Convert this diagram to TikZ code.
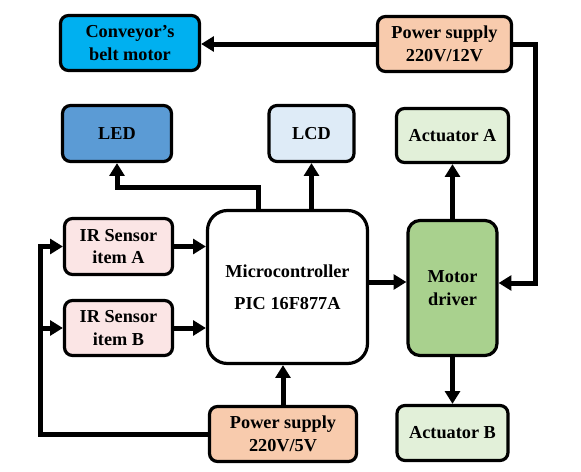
\documentclass[tikz,border=0pt]{standalone}
\usepackage{fontspec}
\setmainfont{Liberation Serif}
\usepackage{tikz}
\usetikzlibrary{arrows.meta}

\definecolor{convblue}{HTML}{00B0F0}
\definecolor{ledblue}{HTML}{5B9BD5}
\definecolor{lcdblue}{HTML}{DEEBF7}
\definecolor{powerorange}{HTML}{F8CBAD}
\definecolor{actgreen}{HTML}{E2F0D9}
\definecolor{drivegreen}{HTML}{A9D18E}
\definecolor{sensorpink}{HTML}{FBE5E5}

\begin{document}
\begin{tikzpicture}[x=0.75pt,y=-0.75pt,->,>={Triangle[length=9.5pt,width=11pt]},line width=3.75pt,
    block/.style={draw=black,line width=2.4pt,rounded corners=6pt,align=center,inner sep=0pt,
        font=\fontsize{13.7}{17}\selectfont\bfseries}]
    \useasboundingbox (0,0) rectangle (581,471);

        % Top row
        \node[block,fill=convblue,minimum width=104.25pt,minimum height=41.25pt] (CONV) at (130,43) {Conveyor’s\\belt motor};
        \node[block,fill=powerorange,minimum width=100.5pt,minimum height=41.25pt] (PS12) at (444.5,44) {Power supply\\220V/12V};

        % Outputs of the microcontroller and driver
        \node[block,fill=ledblue,minimum width=81.75pt,minimum height=42pt] (LED) at (117,133.5) {LED};
        \node[block,fill=lcdblue,minimum width=63.75pt,minimum height=42pt] (LCD) at (311.5,133.5) {LCD};
        \node[block,fill=actgreen,minimum width=84pt,minimum height=40.5pt] (ACTA) at (452.5,135.5) {Actuator A};

        % Sensors
        \node[block,fill=sensorpink,minimum width=81pt,minimum height=42pt] (IRA) at (118.5,246.5) {IR Sensor\\item A};
        \node[block,fill=sensorpink,minimum width=81pt,minimum height=41.25pt] (IRB) at (118.5,328) {IR Sensor\\item B};

        % Controller and driver
        \node[block,fill=white,rounded corners=15pt,minimum width=120pt,minimum height=114.75pt] (MCU) at (287.5,287) {Microcontroller\\[7pt]PIC 16F877A};
        \node[block,fill=drivegreen,rounded corners=9pt,minimum width=66.75pt,minimum height=101.25pt] (MOT) at (452.5,288) {Motor\\driver};

        % Bottom row
        \node[block,fill=powerorange,minimum width=110.25pt,minimum height=41.25pt] (PS5) at (283,434) {Power supply\\220V/5V};
        \node[block,fill=actgreen,minimum width=83.25pt,minimum height=41.25pt] (ACTB) at (452.5,433) {Actuator B};

        \coordinate (BUS) at (40,434);

        % Supply lines
        \draw (PS12.west) -- (PS12.west -| CONV.east);
        \draw (PS12.east) -- ++(22,0) |- ([yshift=3.75pt]MOT.east);
        \draw (PS5.north) -- (PS5.north |- MCU.south);
        \draw (PS5.west) -- (BUS) |- (IRA.west);
        \draw (BUS |- IRB.west) -- (IRB.west);

        % Signal lines
        \draw (IRA.east) -- (IRA.east -| MCU.west);
        \draw (IRB.east) -- (IRB.east -| MCU.west);
        \draw ([xshift=-21.4pt]MCU.north) -- ++(0,-21) -| (LED.south);
        \draw (LCD.south |- MCU.north) -- (LCD.south);
        \draw ([yshift=3.75pt]MCU.east) -- ([yshift=3.75pt]MCU.east -| MOT.west);
        \draw (MOT.north) -- (ACTA.south);
        \draw (MOT.south) -- (ACTB.north);

    \end{tikzpicture}
\end{document}
